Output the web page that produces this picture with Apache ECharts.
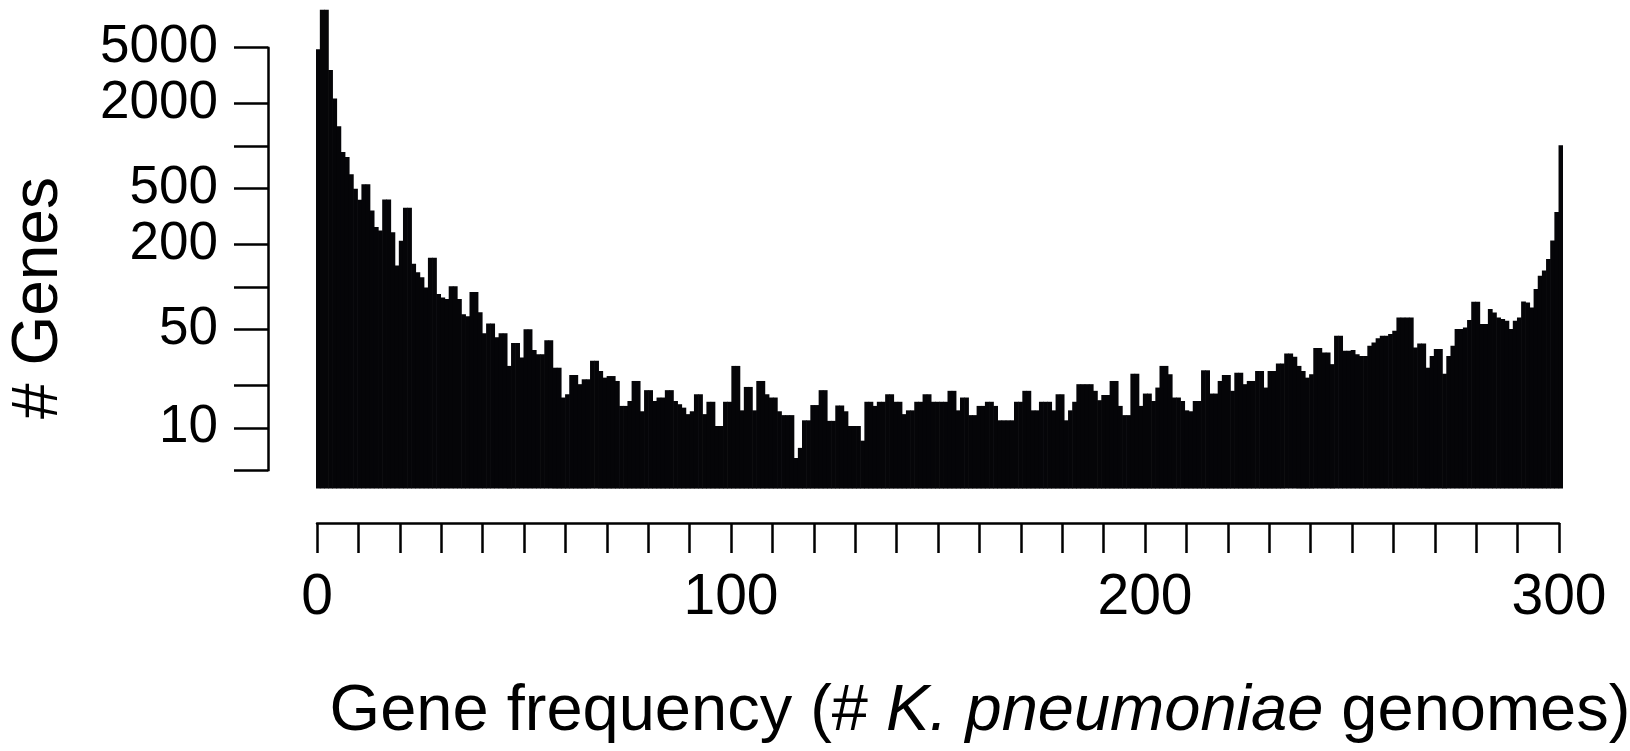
<!DOCTYPE html>
<html>
<head>
    <meta charset="utf-8" />
    <title>Gene frequency histogram</title>
    <script type="text/javascript" src="https://cdn.jsdelivr.net/npm/echarts@6/dist/echarts.min.js"></script>
    <style>
        html, body { margin: 0; padding: 0; background: #fff; }
        #chart { width: 1630px; height: 751px; }
    </style>
</head>
<body>
    <div id="chart"></div>
    <script type="text/javascript">
        // number of genes found in exactly k genomes, k = 1..300
        var geneCounts = [
            4870, 9283, 9283, 3467, 2181, 1384, 908, 837, 630, 499,
            416, 535, 535, 349, 266, 252, 418, 418, 245, 142,
            213, 365, 365, 146, 127, 117, 99, 161, 161, 89,
            84, 82, 101, 101, 82, 64, 62, 92, 92, 66,
            47, 55, 55, 44, 47, 47, 27.5, 40, 40, 31.5,
            50, 50, 35.6, 33.3, 33.3, 41.9, 41.9, 26.7, 26.7, 16.4,
            17.3, 23.7, 23.7, 20.4, 22.1, 22.1, 29.9, 29.9, 25.3, 22.7,
            23.3, 23.3, 21.5, 14.3, 14.3, 15.5, 21.5, 21.5, 13.1, 18.5,
            18.5, 15.5, 16.4, 16.4, 18.5, 18.5, 15.5, 14.7, 13.9, 12.5,
            13.1, 17.3, 17.3, 12.5, 15.3, 15.3, 10.3, 10.3, 15.3, 15.3,
            27.5, 27.5, 13.3, 19.5, 19.5, 13.3, 21.5, 21.5, 17.3, 16.4,
            16.4, 13.1, 12.3, 12.3, 12.3, 6.1, 7.2, 11.3, 11.3, 14.5,
            14.5, 18.5, 18.5, 11.2, 11.2, 14.4, 14.4, 13.1, 10.3, 10.3,
            10.3, 8.1, 15.3, 15.3, 14.3, 15.3, 15.3, 17.3, 17.3, 15.3,
            15.3, 12.5, 13.3, 13.3, 15.3, 15.3, 17.3, 17.3, 15.3, 15.3,
            15.3, 15.3, 18.3, 18.3, 13.3, 16.4, 16.4, 12.3, 12.3, 14.3,
            14.3, 15.3, 15.3, 14.3, 11.3, 11.3, 11.3, 11.3, 15.3, 15.3,
            18.3, 18.3, 13.3, 13.3, 15.3, 15.3, 15.3, 13.3, 17.3, 17.3,
            11.3, 13.3, 15.3, 20.4, 20.4, 20.4, 20.4, 18.3, 15.7, 17.1,
            17.1, 21.5, 21.5, 14.3, 12.3, 12.3, 24.2, 24.2, 14.3, 17.5,
            17.5, 15.5, 19.3, 27.5, 27.5, 24.0, 16.4, 16.4, 15.5, 13.3,
            13.1, 15.5, 15.5, 25.6, 25.6, 17.5, 17.5, 21.5, 23.7, 23.7,
            18.3, 24.6, 24.6, 20.4, 21.5, 21.5, 25.3, 25.3, 19.3, 25.3,
            25.3, 28.6, 28.6, 33.7, 33.7, 31.9, 27.5, 25.3, 22.7, 24.0,
            36.8, 36.8, 34.2, 34.2, 28.3, 45.0, 45.0, 35.2, 35.2, 35.6,
            33.3, 32.4, 32.4, 38.2, 40.3, 43.3, 45.0, 45.0, 46.3, 48.8,
            60.7, 60.7, 60.7, 60.7, 37.1, 39.7, 39.7, 26.7, 32.4, 36.2,
            36.2, 24.2, 32.4, 38.2, 50.2, 50.2, 51.5, 58.2, 78.6, 78.6,
            54.5, 54.5, 69.7, 65.9, 60.7, 59.2, 57.5, 50.2, 57.5, 60.7,
            78.9, 77.6, 71.6, 96.8, 120, 131, 158, 214, 340, 1015
        ];
        var genomeCounts = [];
        for (var k = 1; k <= geneCounts.length; k++) { genomeCounts.push(k); }

        var yTickValues = [5, 10, 20, 50, 100, 200, 500, 1000, 2000, 5000];
        var yLabelValues = [10, 50, 200, 500, 2000, 5000];
        var xLabelValues = [0, 100, 200, 300];

        var FONT = "'Liberation Sans', Arial, Helvetica, sans-serif";
        // plot region (bars) and the log range it shows
        var plotTop = 0, plotBottom = 488.6;
        var yMin = 3.7, yMax = 10900;
        function pxOf(v) {
            var l = Math.log(yMax) - Math.log(v);
            return plotTop + l / (Math.log(yMax) - Math.log(yMin)) * (plotBottom - plotTop);
        }
        var yAxisTop = pxOf(5000), yAxisBottom = pxOf(5);

        var myChart = echarts.init(document.getElementById('chart'));
        var option = {
            animation: false,
            backgroundColor: '#fff',
            grid: [
                { left: 316, right: 67, top: plotTop, height: plotBottom - plotTop, outerBoundsMode: 'none' },
                { left: 268, width: 10, top: yAxisTop, height: yAxisBottom - yAxisTop, outerBoundsMode: 'none' },
                { left: 317, right: 71, top: 500, height: 23, outerBoundsMode: 'none' }
            ],
            xAxis: [
                { gridIndex: 0, type: 'category', data: genomeCounts, show: false },
                { gridIndex: 1, type: 'value', show: false },
                {
                    gridIndex: 2, type: 'value', min: 0, max: 300, interval: 10,
                    axisLine: { show: true, lineStyle: { color: '#000', width: 2.5 } },
                    axisTick: { show: true, inside: false, length: 30, lineStyle: { color: '#000', width: 2.5 } },
                    axisLabel: {
                        color: '#000', fontSize: 57, fontFamily: FONT, margin: 47,
                        formatter: function (v) { return xLabelValues.indexOf(v) >= 0 ? String(v) : ''; }
                    },
                    splitLine: { show: false }
                }
            ],
            yAxis: [
                { gridIndex: 0, type: 'log', min: yMin, max: yMax, show: false },
                {
                    gridIndex: 1, type: 'log', logBase: 10, min: 5, max: 5000,
                    axisLine: { show: true, lineStyle: { color: '#000', width: 2.5 } },
                    axisTick: { show: true, inside: false, length: 34, customValues: yTickValues, lineStyle: { color: '#000', width: 2.5 } },
                    axisLabel: {
                        color: '#000', fontSize: 53, fontFamily: FONT, margin: 50, customValues: yLabelValues,
                        formatter: function (v) { return String(v); }
                    },
                    splitLine: { show: false }
                },
                { gridIndex: 2, type: 'value', show: false }
            ],
            graphic: [
                {
                    type: 'text', x: 39, y: 298, rotation: Math.PI / 2,
                    style: { text: '# Genes', fontSize: 64, fontFamily: FONT, fill: '#000', align: 'center', verticalAlign: 'middle' }
                },
                {
                    type: 'text', x: 980, y: 712,
                    style: {
                        text: 'Gene frequency (# {i|K. pneumoniae} genomes)',
                        fontSize: 65, fontFamily: FONT, fill: '#000', align: 'center', verticalAlign: 'middle',
                        rich: { i: { fontStyle: 'italic', fontSize: 65, fontFamily: FONT, fill: '#000' } }
                    }
                }
            ],
            series: [{
                type: 'bar',
                xAxisIndex: 0,
                yAxisIndex: 0,
                data: geneCounts,
                barWidth: '115%',
                barGap: '0%',
                clip: true,
                silent: true,
                itemStyle: { color: '#050508' }
            }]
        };
        myChart.setOption(option);
    </script>
</body>
</html>
